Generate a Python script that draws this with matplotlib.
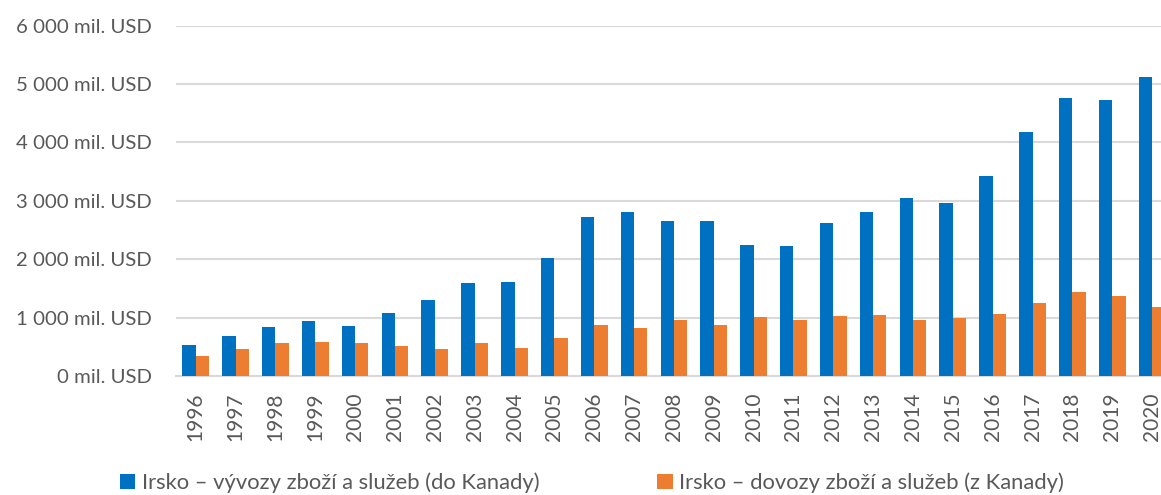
import matplotlib
matplotlib.use("Agg")
import matplotlib.pyplot as plt
import numpy as np
from matplotlib.ticker import FuncFormatter

years = [str(y) for y in range(1996, 2021)]
exports = [526, 680, 845, 942, 856, 1084, 1296, 1592, 1604, 2021, 2728, 2808,
           2648, 2648, 2237, 2226, 2614, 2808, 3048, 2962, 3419, 4178, 4760, 4720, 5120]
imports = [342, 457, 565, 582, 565, 519, 457, 565, 485, 651, 873, 817,
           953, 879, 1010, 959, 1022, 1045, 953, 999, 1062, 1250, 1438, 1365, 1176]
labels = ["Irsko – vývozy zboží a služeb (do Kanady)",
          "Irsko – dovozy zboží a služeb (z Kanady)"]

plt.rcParams['font.family'] = ['Lato', 'DejaVu Sans']
txt = '#595959'

fig = plt.figure(figsize=(11.61, 4.95), dpi=100)
ax = fig.add_axes([175.8/1161, 119/495, (1172-175.8)/1161, (469.3-119)/495])

x = np.arange(len(years))
w = 0.335
b1 = ax.bar(x - w/2, exports, w, color='#0070C0', label=labels[0], zorder=3)
b2 = ax.bar(x + w/2, imports, w, color='#ED7D31', label=labels[1], zorder=3)

ax.set_xlim(-0.5, len(years) - 0.5)
ax.set_ylim(0, 6000)
ax.set_yticks(range(0, 6001, 1000))
ax.yaxis.set_major_formatter(FuncFormatter(
    lambda v, p: (f"{int(v):,}".replace(",", " ") + " mil. USD")))
ax.set_xticks(x)
ax.set_xticklabels(years, rotation=90)
ax.grid(axis='y', color='#d9d9d9', linewidth=1.5, zorder=0)
for s in ['top', 'right', 'left']:
    ax.spines[s].set_visible(False)
ax.spines['bottom'].set_color('#d9d9d9')
ax.spines['bottom'].set_linewidth(1.5)
ax.tick_params(axis='both', length=0, colors=txt)
ax.tick_params(axis='y', labelsize=14.7, pad=17)
ax.tick_params(axis='x', labelsize=15, pad=12)

fig.legend(handles=[b1, b2], labels=labels, loc='center left',
           bbox_to_anchor=(111/1161, 1 - 483/495), ncol=2, frameon=False,
           fontsize=15.8, labelcolor=txt, handlelength=0.7, handleheight=0.7,
           handletextpad=0.3, columnspacing=5.37, borderaxespad=0)

fig.savefig("out.png", dpi=100)
